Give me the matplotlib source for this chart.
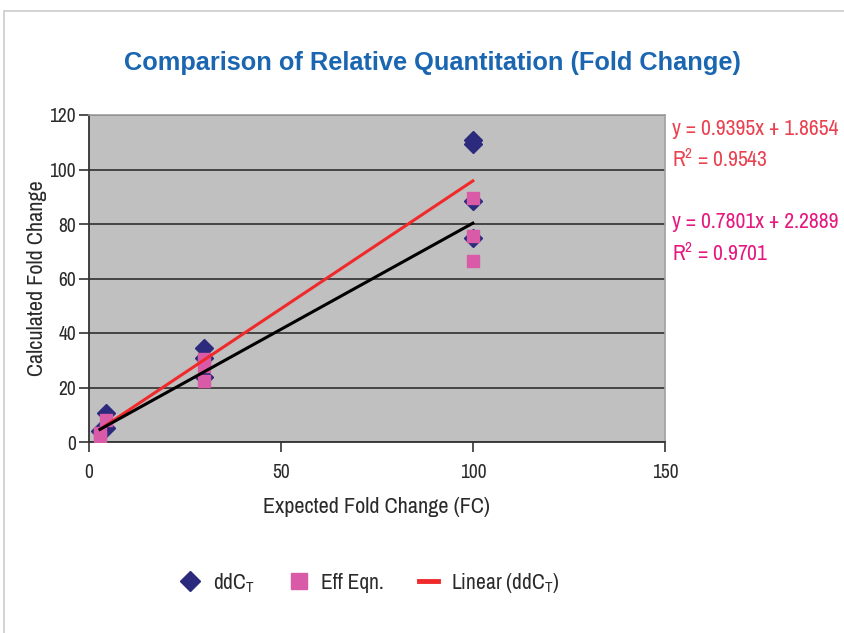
import numpy as np
import matplotlib
matplotlib.use("Agg")
import matplotlib.pyplot as plt
from matplotlib.patches import Rectangle
from matplotlib.lines import Line2D

plt.rcParams['font.family'] = ['Archivo Narrow', 'DejaVu Sans']
plt.rcParams['font.stretch'] = 'condensed'
plt.rcParams['mathtext.fontset'] = 'custom'
plt.rcParams['mathtext.rm'] = 'Archivo Narrow'
plt.rcParams['mathtext.it'] = 'Archivo Narrow'

# ddCT results (expected FC, calculated FC)
ddct_x = [3, 4.5, 4.5, 30, 30, 30, 100, 100, 100, 100]
ddct_y = [4.0, 10.6, 5.0, 34.5, 31.0, 24.0, 110.8, 109.3, 88.3, 74.8]

# efficiency equation results
eff_x = [3, 3, 4.5, 30, 30, 30, 100, 100, 100]
eff_y = [3.2, 2.0, 8.0, 30.5, 28.0, 22.5, 89.6, 75.7, 66.6]

# trendlines (slope, intercept) and R^2
fit_ddct = (0.9395, 1.8654)
r2_ddct = 0.9543
fit_eff = (0.7801, 2.2889)
r2_eff = 0.9701

fit_range = [3, 100]

navy = '#2b2a7c'
pink = '#d95aa6'
red = '#f02a2a'
red_txt = '#ea4150'
mag_txt = '#e5187f'
blue = '#1b66b1'
txt = '#2a2a2a'

fig = plt.figure(figsize=(8.44, 6.33), dpi=100)
fig.patches.append(Rectangle((4 / 844, -0.05), 1.0, 1 - 11 / 633 + 0.05,
                             transform=fig.transFigure, fill=False,
                             edgecolor='#cccccc', linewidth=1.2))

ax = fig.add_axes([88.5 / 844, 1 - 442 / 633, (665 - 88.5) / 844, (442 - 115) / 633])
ax.set_facecolor('#c0c0c0')

ax.plot(ddct_x, ddct_y, linestyle='none', marker='D', markersize=9,
        color=navy, zorder=3)
ax.plot(eff_x, eff_y, linestyle='none', marker='s', markersize=8.5,
        color=pink, zorder=4)

xs = np.array(fit_range)
ax.plot(xs, np.polyval(fit_ddct, xs), color=red, linewidth=2.2, zorder=5)
ax.plot(xs, np.polyval(fit_eff, xs), color='black', linewidth=2.2, zorder=5)

ax.set_xlim(0, 150)
ax.set_ylim(0, 120)
ax.set_xticks([0, 50, 100, 150])
ax.set_yticks(np.arange(0, 121, 20))
ax.yaxis.grid(True, color='#3a3a3a', linewidth=1.3)
ax.set_axisbelow(True)
ax.tick_params(axis='both', direction='out', length=7, width=1.2,
               color='#333333', labelsize=14, labelcolor=txt)
ax.tick_params(axis='x', pad=8)
ax.tick_params(axis='y', pad=2)
for s in ['left', 'bottom']:
    ax.spines[s].set_color('#333333')
    ax.spines[s].set_linewidth(1.3)
for s in ['top', 'right']:
    ax.spines[s].set_color('#a0a0a0')
    ax.spines[s].set_linewidth(1.2)

ax.set_xlabel('Expected Fold Change (FC)', fontsize=16, color=txt, labelpad=11)
ax.set_ylabel('Calculated Fold Change', fontsize=16, color=txt, labelpad=2)

fig.text(432 / 844, 1 - 63 / 633, 'Comparison of Relative Quantitation (Fold Change)',
         ha='center', va='center', fontsize=18.3, fontweight='bold', color=blue,
         family=['Liberation Sans', 'DejaVu Sans'], fontstretch='normal')

tx = 672 / 844
fig.text(tx, 1 - 129 / 633, f'y = {fit_ddct[0]:.4f}x + {fit_ddct[1]:.4f}',
         ha='left', va='center', fontsize=15.5, color=red_txt)
fig.text(tx, 1 - 160 / 633, f'R$^2$ = {r2_ddct:.4f}',
         ha='left', va='center', fontsize=15.5, color=red_txt)
fig.text(tx, 1 - 222 / 633, f'y = {fit_eff[0]:.4f}x + {fit_eff[1]:.4f}',
         ha='left', va='center', fontsize=15.5, color=mag_txt)
fig.text(tx, 1 - 254 / 633, f'R$^2$ = {r2_eff:.4f}',
         ha='left', va='center', fontsize=15.5, color=mag_txt)

handles = [
    Line2D([], [], linestyle='none', marker='D', markersize=10, color=navy),
    Line2D([], [], linestyle='none', marker='s', markersize=11, color=pink),
    Line2D([], [], color=red, linewidth=3.5),
]
labels = ['ddC$_\\mathrm{T}$', 'Eff Eqn.', 'Linear (ddC$_\\mathrm{T}$)']
fig.legend(handles, labels, loc='center', bbox_to_anchor=(370 / 844, 1 - 583 / 633),
           ncol=3, frameon=False, fontsize=15.5, handlelength=0.9,
           columnspacing=1.6, handletextpad=0.6, labelcolor=txt)

fig.savefig('out.png', dpi=100)
